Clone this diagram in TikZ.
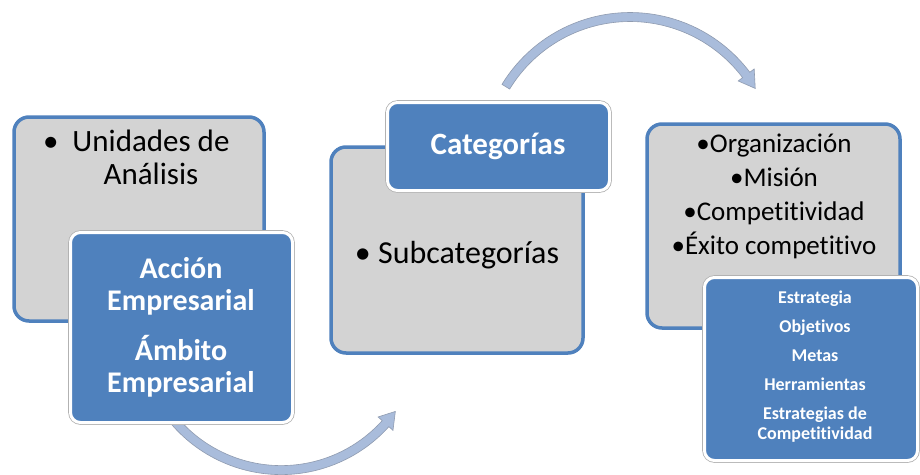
\documentclass[tikz,border=0pt]{standalone}
\usepackage{fontspec}
\setmainfont{Carlito}[Ligatures={NoCommon,NoContextual}, RawFeature={-liga;-clig}]
\definecolor{boxblue}{HTML}{4F81BD}
\definecolor{boxgray}{HTML}{D3D3D3}
\definecolor{arrowfill}{HTML}{A9BCDB}
\definecolor{arrowline}{HTML}{8F9BB0}
\tikzset{
  graybox/.style={draw=boxblue, line width=3.5pt, fill=boxgray, rounded corners=15pt, inner sep=0pt},
  bluebox/.style={fill=boxblue, draw=white, line width=3pt, rounded corners=10pt, inner sep=0pt,
                  preaction={draw=black!30, line width=4.6pt}},
  blacktxt/.style={text=black, align=center, inner sep=0pt},
  whitetxt/.style={text=white, align=center, inner sep=0pt},
  arrowshape/.style={fill=arrowfill, draw=arrowline, line width=0.6pt, line join=miter}
}
\begin{document}
\begin{tikzpicture}[x=1pt,y=-1pt]
\useasboundingbox (0,0) rectangle (920,474);
\fill[white] (0,0) rectangle (920,474);

% curved arrow bottom (box 1 -> box 2)
\def\cx{281.2}\def\cy{329.7}\def\R{140.4}
\draw[arrowshape]
  plot[domain=-141:-42, samples=60] ({\cx+(\R+4.5)*cos(\x)},{\cy-(\R+4.5)*sin(\x)})
  -- ({\cx+(\R+10)*cos(-42)},{\cy-(\R+10)*sin(-42)})
  -- ({\cx+\R*cos(-35.6)},{\cy-\R*sin(-35.6)})
  -- ({\cx+(\R-10)*cos(-42)},{\cy-(\R-10)*sin(-42)})
  -- plot[domain=-42:-141, samples=60] ({\cx+(\R-4.5)*cos(\x)},{\cy-(\R-4.5)*sin(\x)})
  -- cycle;

% curved arrow top (box 2 -> box 3)
\def\cx{630}\def\cy{162.5}\def\R{145.5}
\draw[arrowshape]
  plot[domain=148.6:37, samples=60] ({\cx+(\R+4.5)*cos(\x)},{\cy-(\R+4.5)*sin(\x)})
  -- ({\cx+(\R+10)*cos(37)},{\cy-(\R+10)*sin(37)})
  -- ({\cx+\R*cos(30.6)},{\cy-\R*sin(30.6)})
  -- ({\cx+(\R-10)*cos(37)},{\cy-(\R-10)*sin(37)})
  -- plot[domain=37:148.6, samples=60] ({\cx+(\R-4.5)*cos(\x)},{\cy-(\R-4.5)*sin(\x)})
  -- cycle;

% group 1
\node[graybox, minimum width=250pt, minimum height=204pt] (g1) at (139,219) {};
\node[blacktxt, font=\fontsize{31}{33}\selectfont] (t1) at (151,157)
  {\makebox[0pt][r]{•\hspace{14pt}}Unidades de\\Análisis};
\node[bluebox, minimum width=222pt, minimum height=190pt] (b1) at (181.5,327.5) {};
\node[whitetxt, font=\bfseries\fontsize{30}{32}\selectfont] (t2) at (181,327)
  {Acción\\Empresarial\\[18pt]Ámbito\\Empresarial};

% group 2
\node[graybox, minimum width=252pt, minimum height=206pt] (g2) at (457,250) {};
\node[bluebox, minimum width=222pt, minimum height=88pt] (b2) at (498.5,146.5) {};
\node[whitetxt, font=\bfseries\fontsize{31}{33}\selectfont] (t3) at (498,146) {Categorías};
\node[blacktxt, font=\fontsize{32}{34}\selectfont] (t4) at (457,255) {• Subcategorías};

% group 3
\node[graybox, minimum width=253pt, minimum height=204pt] (g3) at (773.5,226) {};
\node[blacktxt, font=\fontsize{27}{34}\selectfont] (t5) at (774,196)
  {•Organización\\•Misión\\•Competitividad\\•Éxito competitivo};
\node[bluebox, minimum width=213pt, minimum height=183pt] (b3) at (811,369) {};
\node[whitetxt, font=\bfseries\fontsize{18}{20}\selectfont] (t6) at (815,367)
  {Estrategia\\[9pt]Objetivos\\[9pt]Metas\\[9pt]Herramientas\\[9pt]Estrategias de\\Competitividad};
\end{tikzpicture}
\end{document}
